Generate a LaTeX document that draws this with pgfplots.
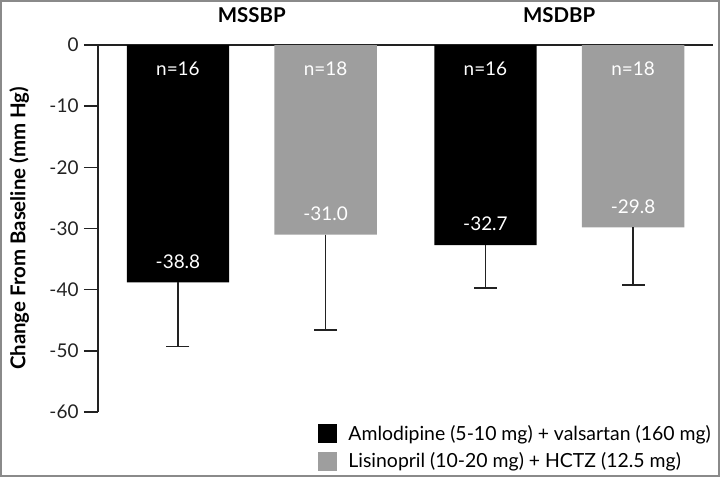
\documentclass[border=0pt]{standalone}
\usepackage{fontspec}
\setmainfont{Lato}
\usepackage{pgfplots}
\pgfplotsset{compat=1.18}
\definecolor{bargray}{HTML}{9E9E9E}
\definecolor{axdark}{HTML}{222222}
\definecolor{framegray}{HTML}{8A8A8A}
\begin{document}
\begin{tikzpicture}
\begin{axis}[
  scale only axis, width=615bp, height=367bp,
  xmin=0, xmax=2, ymin=-60, ymax=0,
  axis y line*=left, axis x line*=top,
  axis line style={axdark, line width=1.4bp, -},
  /pgf/number format/assume math mode=true,
  ytick={-60,-50,-40,-30,-20,-10,0},
  yticklabel style={font=\fontsize{19}{21}\selectfont, text=axdark, xshift=-2bp},
  tick align=outside, major tick length=14bp,
  tick style={axdark, line width=1.4bp},
  xtick={0.5,1.5}, xticklabels={MSSBP,MSDBP},
  xticklabel style={font=\bfseries\fontsize{20.5}{22}\selectfont, yshift=5bp},
  xtick style={draw=none},
  extra x ticks={1,2}, extra x tick labels={},
  extra x tick style={major tick length=10bp, tick style={draw=axdark, line width=1.4bp, yshift=-10bp}},
  every axis y label/.style={at={(axis description cs:-0.128,0.5)}, rotate=90, anchor=center, font=\bfseries\fontsize{20.5}{22}\selectfont},
  ylabel={Change From Baseline (mm Hg)},
  legend style={at={(1,-0.03)}, anchor=north east, draw=none, fill=none,
    font=\fontsize{19.5}{21}\selectfont, inner sep=0pt, row sep=7bp,
    /tikz/every odd column/.append style={column sep=9bp}},
  legend cell align=left,
  legend image code/.code={\fill[#1, draw=none] (0bp,-9.5bp) rectangle (19bp,9.5bp);},
  clip=false,
]
\addplot[ybar, bar width=0.333, bar shift=0pt, fill=black, draw=none,
  nodes near coords, point meta=y,
  every node near coord/.style={white, anchor=center, yshift=21bp, font=\fontsize{19}{21}\selectfont,
    /pgf/number format/.cd, fixed, fixed zerofill, precision=1, assume math mode=true},
  error bars/.cd, y dir=minus, y explicit,
  error bar style={axdark, line width=1.5bp},
  error mark options={axdark, line width=1.5bp, rotate=90, mark size=11.5bp}]
  coordinates {(0.26,-38.8) -= (0,10.5) (1.26,-32.7) -= (0,7.0)};
\addlegendentry{Amlodipine (5-10 mg) + valsartan (160 mg)}
\addplot[ybar, bar width=0.333, bar shift=0pt, fill=bargray, draw=none,
  nodes near coords, point meta=y,
  every node near coord/.style={white, anchor=center, yshift=21bp, font=\fontsize{19}{21}\selectfont,
    /pgf/number format/.cd, fixed, fixed zerofill, precision=1, assume math mode=true},
  error bars/.cd, y dir=minus, y explicit,
  error bar style={axdark, line width=1.5bp},
  error mark options={axdark, line width=1.5bp, rotate=90, mark size=11.5bp}]
  coordinates {(0.74,-31.0) -= (0,15.6) (1.74,-29.8) -= (0,9.4)};
\addlegendentry{Lisinopril (10-20 mg) + HCTZ (12.5 mg)}
\addplot[draw=none, mark=none, forget plot, nodes near coords, point meta=explicit symbolic,
  every node near coord/.style={white, anchor=center, font=\fontsize{19}{21}\selectfont}]
  coordinates {(0.26,-3.9)[n=16] (0.74,-3.9)[n=18] (1.26,-3.9)[n=16] (1.74,-3.9)[n=18]};
\end{axis}
\pgfresetboundingbox
\path[use as bounding box] (-98bp,-65bp) rectangle (622bp,412bp);
\draw[framegray, line width=2bp] (-97bp,-64bp) rectangle (621bp,411bp);
\end{tikzpicture}
\end{document}
